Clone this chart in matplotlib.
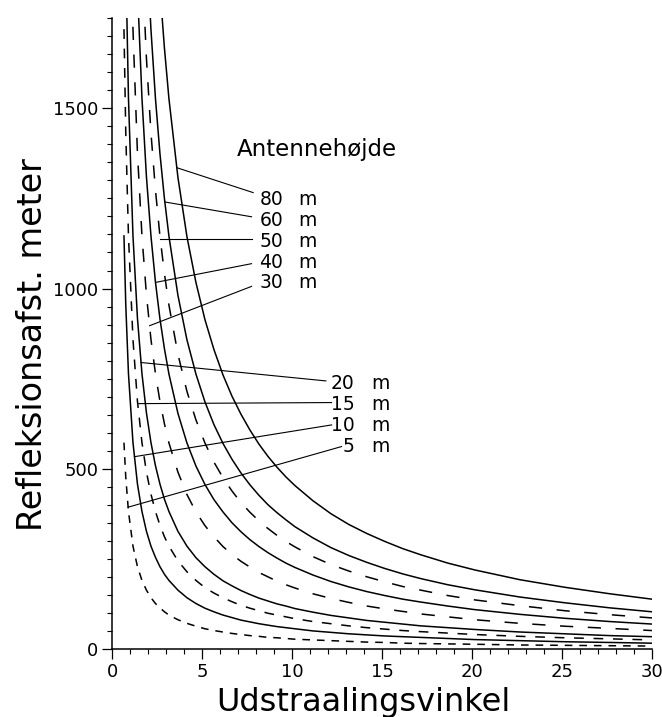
import matplotlib
matplotlib.use("Agg")
import matplotlib.pyplot as plt
import numpy as np
from matplotlib.ticker import MultipleLocator

angles = [0.65, 0.75, 0.9, 1.15, 1.4, 1.65, 1.9, 2.15, 2.4, 2.65, 2.9, 3.15, 3.65,
          4.15, 4.65, 5.15, 5.65, 6.15, 6.65, 7.15, 7.65, 8.15, 8.65, 9.15, 9.65,
          10.15, 11.15, 12.15, 13.15, 14.15, 15.15, 16.15, 17.15, 18.65, 20.15,
          22.65, 25.15, 27.65, 30.0]

# Refleksionsafstand (m) per antenna height; every list ends at the last angle
dist_80 = [1832, 1666, 1526, 1308, 1144, 1017, 914, 831, 761, 702, 652, 608, 569,
           535, 505, 478, 454, 412, 376, 346, 321, 299, 279, 262, 239, 220, 193,
           172, 154, 139]
dist_60 = [1964, 1718, 1527, 1374, 1249, 1145, 981, 858, 763, 686, 623, 571, 527,
           489, 456, 427, 401, 379, 359, 340, 309, 282, 260, 241, 224, 209, 196,
           179, 165, 145, 129, 115, 104]
dist_50 = [1910, 1637, 1432, 1273, 1145, 1041, 954, 818, 715, 636, 572, 519, 476,
           439, 407, 380, 356, 335, 316, 299, 284, 257, 235, 217, 201, 187, 174,
           164, 149, 137, 121, 107, 96, 87]
dist_40 = [1833, 1528, 1309, 1146, 1018, 916, 833, 763, 654, 572, 508, 457, 415,
           381, 351, 326, 304, 285, 268, 253, 239, 227, 206, 188, 173, 160, 149,
           139, 131, 120, 110, 97, 86, 77, 70]
dist_30 = [2292, 1719, 1375, 1146, 982, 859, 764, 687, 625, 572, 491, 429, 381,
           343, 312, 285, 263, 244, 228, 213, 201, 189, 179, 170, 154, 141, 130,
           120, 112, 105, 98, 90, 82, 72, 64, 58, 52]
dist_20 = [1910, 1528, 1146, 917, 764, 655, 573, 509, 458, 416, 382, 327, 286,
           254, 229, 208, 190, 176, 163, 152, 142, 134, 126, 120, 113, 103, 94,
           87, 80, 75, 70, 65, 60, 55, 48, 43, 38, 35]
dist_15 = [1719, 1432, 1146, 859, 687, 573, 491, 430, 382, 344, 312, 286, 245,
           215, 191, 171, 156, 143, 132, 122, 114, 107, 100, 95, 90, 85, 77, 71,
           65, 60, 56, 52, 49, 45, 41, 36, 32, 29, 26]
dist_10 = [1146, 955, 764, 573, 458, 382, 327, 286, 255, 229, 208, 191, 164,
           143, 127, 114, 104, 95, 88, 81, 76, 71, 67, 63, 60, 57, 51, 47, 43,
           40, 37, 35, 33, 30, 27, 24, 21, 19, 17]
dist_5 = [573, 477, 382, 286, 229, 191, 164, 143, 127, 115, 104, 95, 82,
          72, 64, 57, 52, 48, 44, 41, 38, 36, 33, 32, 30, 28, 26, 24, 22, 20,
          19, 17, 16, 15, 14, 12, 11, 10, 9]

heights = [80, 60, 50, 40, 30, 20, 15, 10, 5]
series = [dist_80, dist_60, dist_50, dist_40, dist_30, dist_20, dist_15, dist_10, dist_5]

# drawing styles and label layout (not data)
LONG_DASH = (0, (9.5, 10.5))
STYLES = {80: "-", 60: "-", 50: LONG_DASH, 40: "-", 30: LONG_DASH, 20: "-",
          15: (0, (7, 7)), 10: "-", 5: (0, (5.5, 5))}
# y on the curve where each leader starts, leader end (x, y), label y
LEADERS = {
    80: (1335, 7.83, 1266, 1246),
    60: (1240, 7.74, 1199, 1188),
    50: (1138, 7.74, 1138, 1131),
    40: (1017, 7.74, 1069, 1071),
    30: (897, 7.74, 1006, 1016),
    20: (795, 11.87, 744, 737),
    15: (681, 12.19, 684, 678),
    10: (534, 12.19, 622, 620),
    5: (394, 12.74, 562, 562),
}

plt.rcParams["font.family"] = ["DejaVu Sans"]
plt.rcParams["lines.scale_dashes"] = False

fig = plt.figure(figsize=(6.62, 7.17), dpi=100)
ax = fig.add_axes([0.1696, 0.0944, 0.8153, 0.8805])

for h, d in zip(heights, series):
    x = np.array(angles[-len(d):])
    y = np.array(d)
    ax.plot(x, y, color="black", lw=1.1, linestyle=STYLES[h])

    y0, xe, ye, yt = LEADERS[h]
    x0 = np.interp(y0, y[::-1], x[::-1])
    ax.plot([x0, xe], [y0, ye], color="black", lw=0.8)
    if h >= 30:
        xn, xm = 9.5, 10.32
    else:
        xn, xm = 13.48, 14.41
    ax.text(xn, yt, f"{h}", ha="right", va="center", fontsize=13.5)
    ax.text(xm, yt, "m", ha="left", va="center", fontsize=13.5)

ax.text(6.94, 1386, "Antennehøjde", ha="left", va="center", fontsize=16.5)

ax.set_xlim(0, 30)
ax.set_ylim(0, 1750)
ax.xaxis.set_major_locator(MultipleLocator(5))
ax.xaxis.set_minor_locator(MultipleLocator(1))
ax.yaxis.set_major_locator(MultipleLocator(500))
ax.yaxis.set_minor_locator(MultipleLocator(50))
ax.tick_params(which="major", direction="out", length=7, width=0.9,
               labelsize=13, pad=3)
ax.tick_params(which="minor", direction="out", length=3.6, width=0.8)
ax.spines["top"].set_visible(False)
ax.spines["right"].set_visible(False)
for s in ("left", "bottom"):
    ax.spines[s].set_linewidth(1.1)

fig.text(363 / 662, 1 - 702 / 717, "Udstraalingsvinkel", ha="center",
         va="center", fontsize=23)
fig.text(33 / 662, 1 - 345 / 717, "Refleksionsafst. meter", ha="center",
         va="center", rotation=90, fontsize=24)

fig.savefig("out.png", dpi=100)
